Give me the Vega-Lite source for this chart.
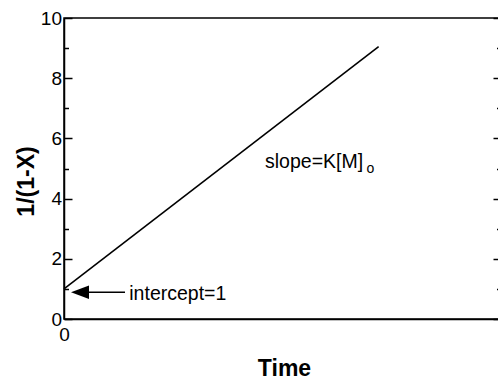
{
  "$schema": "https://vega.github.io/schema/vega-lite/v6.json",
  "width": 437,
  "height": 301,
  "autosize": {"type": "none"},
  "padding": {"left": 64, "top": 18, "right": -3, "bottom": 61},
  "background": "white",
  "config": {
    "font": "Liberation Sans",
    "view": {"stroke": "black", "strokeWidth": 1.5},
    "axis": {
      "grid": false,
      "domainColor": "black",
      "domainWidth": 1.5,
      "tickColor": "black",
      "tickWidth": 1.5,
      "labelColor": "black",
      "titleColor": "black",
      "labelFont": "Liberation Sans",
      "titleFont": "Liberation Sans",
      "labelFontSize": 19,
      "titleFontSize": 23,
      "titleFontWeight": "bold",
      "labelFlush": false
    }
  },
  "datasets": {
    "curve": [
      {"t": 0, "v": 1},
      {"t": 7.2, "v": 9.05}
    ]
  },
  "encoding": {
    "x": {
      "field": "t",
      "type": "quantitative",
      "scale": {"domain": [0, 10], "nice": false, "zero": false},
      "axis": {
        "values": [0],
        "ticks": false,
        "labelPadding": 6,
        "title": "Time",
        "titleX": 220,
        "titleY": 56,
        "titleBaseline": "alphabetic"
      }
    }
  },
  "resolve": {"axis": {"y": "independent"}},
  "layer": [
    {
      "data": {"name": "curve"},
      "mark": {"type": "line", "color": "black", "strokeWidth": 1.6},
      "encoding": {
        "y": {
          "field": "v",
          "type": "quantitative",
          "scale": {"domain": [0, 10], "nice": false},
          "axis": {
            "orient": "left",
            "values": [0, 2, 4, 6, 8, 10],
            "tickSize": -8,
            "labelPadding": 10.5,
            "title": "1/(1-X)",
            "titleX": -31,
            "titleY": 163,
            "titleBaseline": "alphabetic"
          }
        }
      }
    },
    {
      "data": {"name": "curve"},
      "mark": {"type": "line", "strokeOpacity": 0},
      "encoding": {
        "y": {
          "field": "v",
          "type": "quantitative",
          "scale": {"domain": [0, 10], "nice": false},
          "axis": {
            "orient": "left",
            "values": [1, 3, 5, 7, 9],
            "tickSize": -4.5,
            "labels": false,
            "domain": false,
            "title": null
          }
        }
      }
    },
    {
      "data": {"name": "curve"},
      "mark": {"type": "line", "strokeOpacity": 0},
      "encoding": {
        "y": {
          "field": "v",
          "type": "quantitative",
          "scale": {"domain": [0, 10], "nice": false},
          "axis": {
            "orient": "right",
            "values": [0, 2, 4, 6, 8, 10],
            "tickSize": -8,
            "labels": false,
            "domain": false,
            "title": null
          }
        }
      }
    },
    {
      "data": {"name": "curve"},
      "mark": {"type": "line", "strokeOpacity": 0},
      "encoding": {
        "y": {
          "field": "v",
          "type": "quantitative",
          "scale": {"domain": [0, 10], "nice": false},
          "axis": {
            "orient": "right",
            "values": [1, 3, 5, 7, 9],
            "tickSize": -4.5,
            "labels": false,
            "domain": false,
            "title": null
          }
        }
      }
    },
    {
      "data": {"values": [{"t": 0.572, "v": 0.889}, {"t": 1.396, "v": 0.889}]},
      "mark": {"type": "line", "color": "black", "strokeWidth": 1.6},
      "encoding": {
        "y": {"field": "v", "type": "quantitative", "axis": null}
      }
    },
    {
      "data": {"values": [{"t": 0.366, "v": 0.889}]},
      "mark": {
        "type": "point",
        "shape": "M -1 0 L 1 -0.74 L 1 0.74 Z",
        "filled": true,
        "color": "black",
        "opacity": 1,
        "size": 324,
        "strokeWidth": 0
      },
      "encoding": {
        "y": {"field": "v", "type": "quantitative", "axis": null}
      }
    },
    {
      "data": {"values": [
        {"t": 1.494, "v": 0.647, "label": "intercept=1"},
        {"t": 4.6, "v": 5.01, "label": "slope=K[M]"}
      ]},
      "mark": {"type": "text", "align": "left", "baseline": "alphabetic", "fontSize": 19.5, "color": "black", "font": "Liberation Sans"},
      "encoding": {
        "y": {"field": "v", "type": "quantitative", "axis": null},
        "text": {"field": "label"}
      }
    },
    {
      "data": {"values": [{"t": 6.92, "v": 4.86, "label": "o"}]},
      "mark": {"type": "text", "align": "left", "baseline": "alphabetic", "fontSize": 14, "color": "black", "font": "Liberation Sans"},
      "encoding": {
        "y": {"field": "v", "type": "quantitative", "axis": null},
        "text": {"field": "label"}
      }
    }
  ]
}
